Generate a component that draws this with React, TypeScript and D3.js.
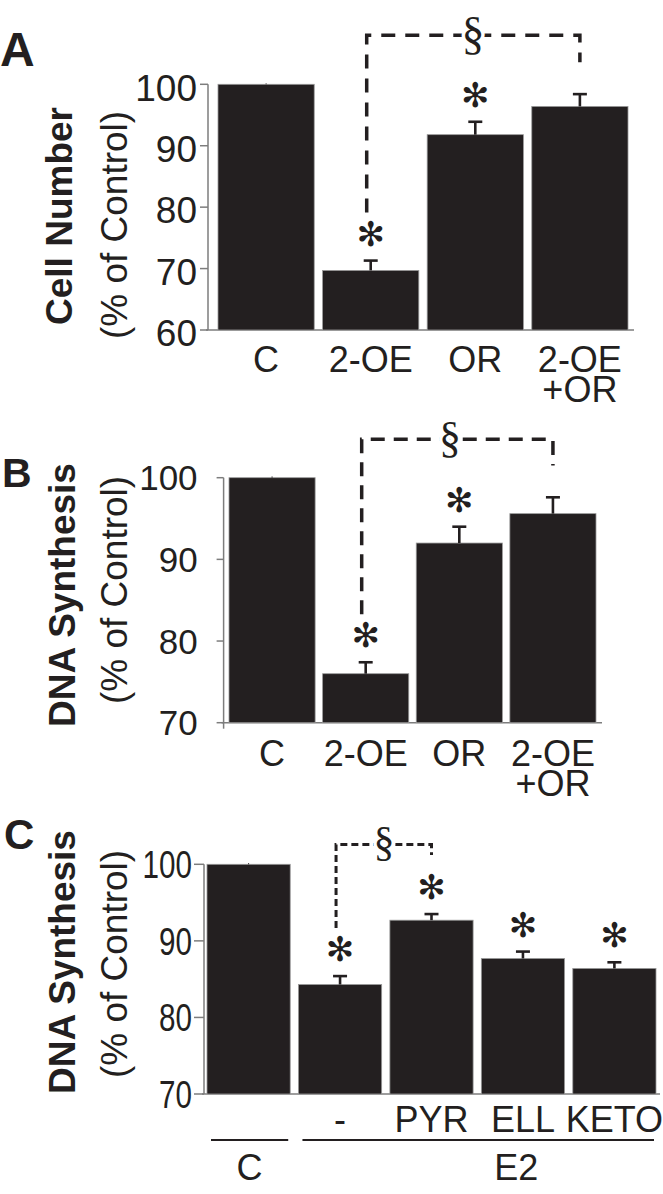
import React from "react";
import { scaleBand, scaleLinear } from "d3";

// panel A: cell number
const catsA = ["C", "2-OE", "OR", "2-OE+OR"];
const valuesA = [100, 69.7, 91.8, 96.4];
const errA = [0.15, 1.6, 2.1, 2.0];
const starsA = [false, true, true, false];
const ticksA = [60, 70, 80, 90, 100];

// panel B: DNA synthesis
const catsB = ["C", "2-OE", "OR", "2-OE+OR"];
const valuesB = [100, 76.0, 92.0, 95.6];
const errB = [0.15, 1.4, 2.0, 2.0];
const starsB = [false, true, true, false];
const ticksB = [70, 80, 90, 100];

// panel C: DNA synthesis with E2
const catsC = ["", "-", "PYR", "ELL", "KETO"];
const valuesC = [100, 84.3, 92.7, 87.7, 86.4];
const errC = [0.15, 1.1, 0.8, 0.9, 0.8];
const starsC = [false, true, true, true, true];
const ticksC = [70, 80, 90, 100];
const groupsC = [
  { label: "C", from: 0, to: 0 },
  { label: "E2", from: 1, to: 4 },
];

const INK = "#231f20";
const AXIS = "#7d7d7d";
const SANS = "'Liberation Sans', Arial, Helvetica, sans-serif";
const SERIF = "'Liberation Serif', 'Times New Roman', serif";

function Panel(props) {
  const { cfg, cats, values, errs, stars, ticks, bracket, groups } = props;
  const y = scaleLinear().domain(cfg.domain).range([cfg.y0, cfg.y1]);
  const x = scaleBand()
    .domain(cats.map((c, i) => i))
    .range([cfg.x0, cfg.x1])
    .paddingInner(cfg.pad)
    .paddingOuter(0);
  const bw = x.bandwidth();
  const cx = (i) => x(i) + bw / 2;
  const starY = (i) => y(values[i] + errs[i]) - 27;

  const bx1 = cx(bracket.from) - 4;
  const bx2 = cx(bracket.to);
  const by = y(bracket.level);

  return (
    <g>
      <text x={cfg.letterX} y={cfg.letterY} fontFamily={SANS} fontWeight="bold" fontSize={cfg.letterSize} fill={INK}>
        {cfg.letter}
      </text>
      <text transform={`translate(${cfg.titleX},${cfg.titleY}) rotate(-90)`} textAnchor="middle"
        fontFamily={SANS} fontWeight="bold" fontSize={37} fill={INK}>
        {cfg.title}
      </text>
      <text transform={`translate(${cfg.subX},${cfg.subY}) rotate(-90)`} textAnchor="middle"
        fontFamily={SANS} fontSize={37} fill={INK}>
        (% of Control)
      </text>

      {/* y axis */}
      <line x1={cfg.axisX} x2={cfg.axisX} y1={y(cfg.domain[1])} y2={cfg.y0 + cfg.axisOver} stroke={AXIS} strokeWidth={1.5} />
      {ticks.map((t) => (
        <g key={t}>
          <line x1={cfg.axisX - cfg.tickLen} x2={cfg.axisX} y1={y(t)} y2={y(t)} stroke={AXIS} strokeWidth={1.5} />
          <text transform={`translate(${cfg.axisX - cfg.tickLen - cfg.tickPad},${y(t) + 0.358 * cfg.tickSize + cfg.tickDy}) scale(${cfg.tickSx},1)`}
            textAnchor="end" fontFamily={SANS} fontSize={cfg.tickSize} fill={INK}>
            {t}
          </text>
        </g>
      ))}
      {/* x axis */}
      <line x1={cfg.axisX - 2} x2={cfg.xEnd} y1={cfg.y0} y2={cfg.y0} stroke={AXIS} strokeWidth={1.5} />

      {/* bars */}
      {values.map((v, i) => (
        <rect key={i} x={x(i)} y={y(v)} width={bw} height={cfg.y0 - y(v)} fill={INK} stroke="#9a9a9a" strokeWidth={0.8} />
      ))}
      {/* error bars */}
      {values.map((v, i) => (
        <g key={i} stroke={INK} strokeWidth={i === 0 ? 1 : 2.6}>
          <line x1={cx(i)} x2={cx(i)} y1={y(v)} y2={y(v + errs[i])} />
          {i > 0 && <line x1={cx(i) - 7} x2={cx(i) + 7} y1={y(v + errs[i])} y2={y(v + errs[i])} />}
        </g>
      ))}
      {stars.map((s, i) =>
        s ? (
          <text key={i} x={cx(i)} y={starY(i)} textAnchor="middle" dominantBaseline="central"
            fontFamily="'DejaVu Sans', sans-serif" fontSize={34} fill={INK}>
            ✻
          </text>
        ) : null
      )}

      {/* significance bracket */}
      <path
        d={`M${bx1},${starY(bracket.from) - 21}V${by}H${bx2}V${y(bracket.rightEnd)}`}
        fill="none" stroke={INK} strokeWidth={cfg.dashW} strokeDasharray={cfg.dash}
      />
      <text x={cfg.sectX} y={by + cfg.sectDy} textAnchor="middle" fontFamily={SERIF} fontSize={cfg.sectSize}
        fill={INK} stroke="#fff" strokeWidth={7} paintOrder="stroke">
        §
      </text>

      {/* category labels, second line as a tspan */}
      {cats.map((c, i) => {
        const lines = c.includes("+") ? [c.slice(0, c.indexOf("+")), c.slice(c.indexOf("+"))] : [c];
        return (
          <text key={i} y={cfg.catY} textAnchor="middle" fontFamily={SANS} fontSize={36} fill={INK}>
            {lines.map((l, k) => (
              <tspan key={k} x={cx(i)} dy={k === 0 ? 0 : 30}>
                {l}
              </tspan>
            ))}
          </text>
        );
      })}

      {groups &&
        groups.map((g, gi) => {
          const gx1 = x(g.from) + 4;
          const gx2 = x(g.to) + bw - 2;
          return (
            <g key={g.label}>
              <line x1={gx1} x2={gx2} y1={cfg.groupLineY} y2={cfg.groupLineY} stroke={INK} strokeWidth={2} />
              <text x={(gx1 + gx2) / 2 + cfg.groupDx[gi]} y={cfg.groupY} textAnchor="middle"
                fontFamily={SANS} fontSize={36} fill={INK}>
                {g.label}
              </text>
            </g>
          );
        })}
    </g>
  );
}

const cfgA = {
  letter: "A", letterX: 0, letterY: 66, letterSize: 48,
  title: "Cell Number", titleX: 72, titleY: 216, subX: 127, subY: 225,
  domain: [60, 100], y0: 330, y1: 84.3, x0: 218, x1: 628, pad: 0.08,
  axisX: 208, axisOver: 0, xEnd: 634, tickLen: 8, tickPad: 3, tickSize: 37, tickSx: 1, tickDy: 3,
  dash: "14 10", dashW: 3.5, sectX: 473, sectSize: 46, sectDy: 14, catY: 372,
};
const cfgB = {
  letter: "B", letterX: 2, letterY: 487, letterSize: 41,
  title: "DNA Synthesis", titleX: 75, titleY: 595, subX: 127, subY: 590,
  domain: [70, 100], y0: 722.7, y1: 477.7, x0: 229, x1: 596, pad: 0.08,
  axisX: 223.6, axisOver: 6, xEnd: 602, tickLen: 7, tickPad: 19, tickSize: 35, tickSx: 1, tickDy: 0,
  dash: "14 9", dashW: 3.5, sectX: 450, sectSize: 44, sectDy: 13, catY: 766,
};
const cfgC = {
  letter: "C", letterX: 4, letterY: 849, letterSize: 42,
  title: "DNA Synthesis", titleX: 75, titleY: 962, subX: 127, subY: 964,
  domain: [70, 100], y0: 1094, y1: 864.3, x0: 207, x1: 656, pad: 0.09,
  axisX: 204, axisOver: 0, xEnd: 660, tickLen: 10, tickPad: 2, tickSize: 39, tickSx: 0.76, tickDy: 0,
  dash: "7 4", dashW: 3, sectX: 384, sectSize: 42, sectDy: 12, catY: 1132,
  groupLineY: 1140, groupY: 1180, groupDx: [0, 38],
};

export default function App() {
  return (
    <svg width={663} height={1194} style={{ position: "absolute", left: 0, top: 0, background: "#fff" }}>
      <Panel cfg={cfgA} cats={catsA} values={valuesA} errs={errA} stars={starsA} ticks={ticksA}
        bracket={{ from: 1, to: 3, level: 108, rightEnd: 103.6 }} />
      <Panel cfg={cfgB} cats={catsB} values={valuesB} errs={errB} stars={starsB} ticks={ticksB}
        bracket={{ from: 1, to: 3, level: 104.7, rightEnd: 101.5 }} />
      <Panel cfg={cfgC} cats={catsC} values={valuesC} errs={errC} stars={starsC} ticks={ticksC}
        bracket={{ from: 1, to: 2, level: 102.6, rightEnd: 101.2 }} groups={groupsC} />
    </svg>
  );
}
